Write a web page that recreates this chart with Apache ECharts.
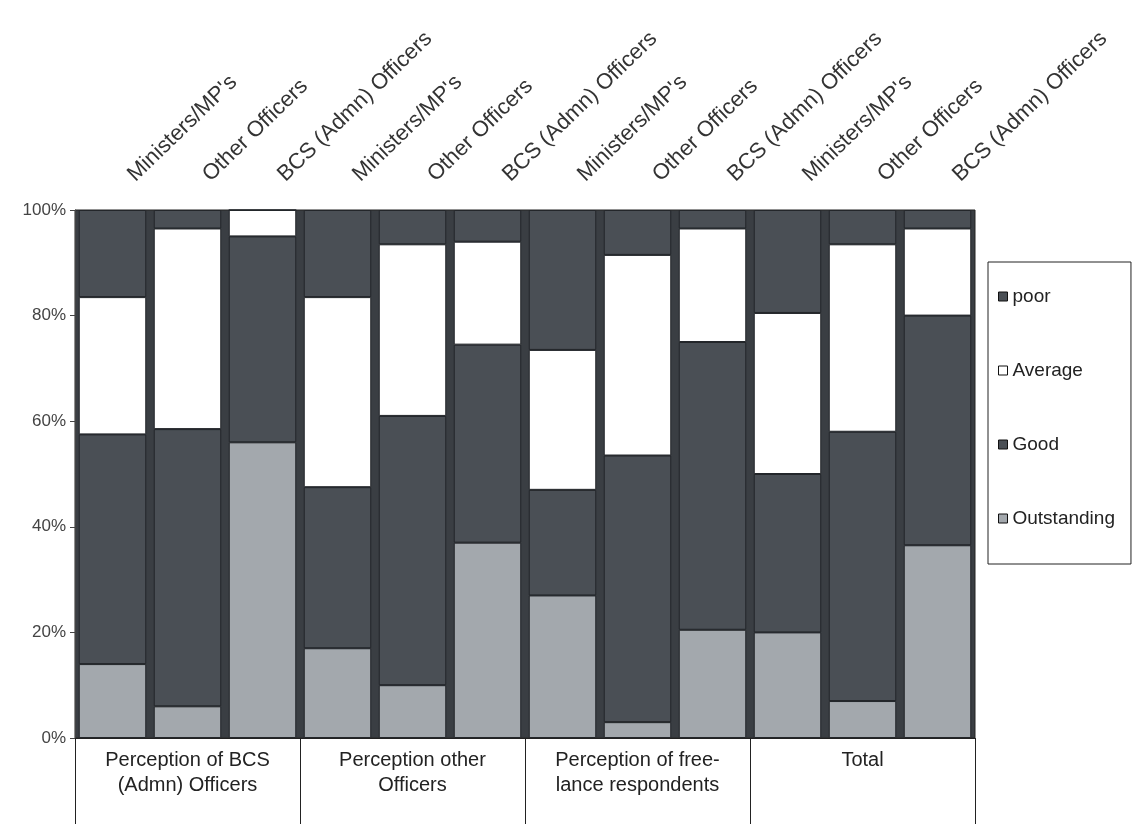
<!DOCTYPE html>
<html>
<head>
<meta charset="utf-8">
<script src="https://cdn.jsdelivr.net/npm/echarts@6/dist/echarts.min.js"></script>
<style>
  html, body { margin: 0; padding: 0; background: #fff; }
  #chart { width: 1140px; height: 824px; }
</style>
</head>
<body>
<div id="chart"></div>
<script>
// Respondent type within each perception group
const categories = [
  "Ministers/MP's", 'Other Officers', 'BCS (Admn) Officers',
  "Ministers/MP's", 'Other Officers', 'BCS (Admn) Officers',
  "Ministers/MP's", 'Other Officers', 'BCS (Admn) Officers',
  "Ministers/MP's", 'Other Officers', 'BCS (Admn) Officers'
];
const groups = [
  'Perception of BCS\n(Admn) Officers',
  'Perception other\nOfficers',
  'Perception of free-\nlance respondents',
  'Total'
];
// Share of ratings (%) per bar
const outstanding = [14, 6, 56, 17, 10, 37, 27, 3, 20.5, 20, 7, 36.5];
const good        = [43.5, 52.5, 39, 30.5, 51, 37.5, 20, 50.5, 54.5, 30, 51, 43.5];
const average     = [26, 38, 5, 36, 32.5, 19.5, 26.5, 38, 21.5, 30.5, 35.5, 16.5];
const poor        = [16.5, 3.5, 0, 16.5, 6.5, 6, 26.5, 8.5, 3.5, 19.5, 6.5, 3.5];
const yTicks = [0, 20, 40, 60, 80, 100];

const chart = echarts.init(document.getElementById('chart'), null, { renderer: 'canvas' });

const font = 'Liberation Sans, Arial, sans-serif';
const barBorder = { borderColor: '#23262a', borderWidth: 1 };

function bar(name, data, color) {
  return {
    name: name,
    type: 'bar',
    stack: 'rating',
    xAxisIndex: 0,
    barCategoryGap: '10%',
    data: data,
    itemStyle: Object.assign({ color: color }, barBorder)
  };
}

chart.setOption({
  animation: false,
  backgroundColor: '#ffffff',
  grid: {
    left: 75, right: 165, top: 210, bottom: 86,
    show: true,
    backgroundColor: '#3a3e43',
    borderColor: '#222',
    borderWidth: 1
  },
  legend: {
    orient: 'vertical',
    left: 988,
    top: 262,
    data: ['poor', 'Average', 'Good', 'Outstanding'],
    icon: 'rect',
    itemWidth: 9,
    itemHeight: 9,
    itemGap: 55,
    padding: [25, 16, 36, 10],
    borderColor: '#222',
    borderWidth: 1,
    textStyle: { fontFamily: font, fontSize: 19, color: '#222' },
    itemStyle: { borderColor: '#111', borderWidth: 1 }
  },
  xAxis: [
    {
      type: 'category',
      position: 'top',
      data: categories,
      axisLine: { show: false },
      axisTick: { show: false },
      axisLabel: {
        rotate: 44,
        interval: 0,
        margin: 14,
        padding: [0, 0, 0, 26],
        fontFamily: font,
        fontSize: 22,
        color: '#333'
      }
    },
    {
      type: 'category',
      position: 'bottom',
      data: groups,
      axisLine: { show: true, lineStyle: { color: '#222', width: 1 } },
      axisTick: { show: true, length: 90, lineStyle: { color: '#222', width: 1 } },
      axisLabel: {
        interval: 0,
        margin: 10,
        fontFamily: font,
        fontSize: 20,
        lineHeight: 25,
        color: '#222'
      }
    }
  ],
  yAxis: {
    type: 'value',
    min: yTicks[0],
    max: yTicks[yTicks.length - 1],
    interval: 20,
    axisLine: { show: true, lineStyle: { color: '#444' } },
    axisTick: { show: true, length: 5, lineStyle: { color: '#444' } },
    splitLine: { show: false },
    axisLabel: {
      formatter: '{value}%',
      fontFamily: font,
      fontSize: 17,
      color: '#444',
      margin: 9
    }
  },
  series: [
    bar('Outstanding', outstanding, '#a3a8ad'),
    bar('Good', good, '#4a4f55'),
    bar('Average', average, '#ffffff'),
    bar('poor', poor, '#4a4f55')
  ]
});
</script>
</body>
</html>
